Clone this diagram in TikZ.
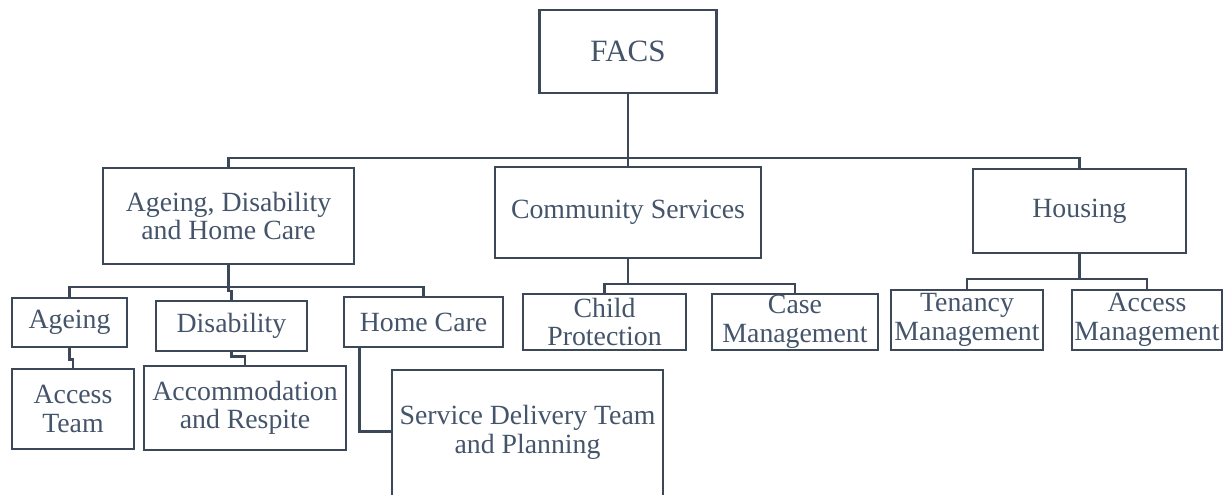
\documentclass[tikz,border=0pt]{standalone}
\usepackage{fontspec}
\setmainfont{Liberation Serif}
\definecolor{edge}{HTML}{3C4858}
\definecolor{ink}{HTML}{44546A}
\begin{document}
\begin{tikzpicture}[x=1pt,y=-1pt,
  txt/.style={text=ink, align=center, inner sep=0pt, font=\fontsize{27.8pt}{28.5pt}\selectfont},
  box/.style={txt, draw=edge, line width=2.9pt, rectangle},
  link/.style={draw=edge, line width=2.9pt},
]
\useasboundingbox (0,0) rectangle (1223,495);
\clip (0,0) rectangle (1223,495);

% top level
\node[box, minimum width=177pt, minimum height=83pt, font=\fontsize{31pt}{31pt}\selectfont] (facs) at (628,51.5) {FACS};

% divisions
\node[box, minimum width=251pt, minimum height=96pt] (adhc) at (228.5,216) {Ageing, Disability\\and Home Care};
\node[box, minimum width=266pt, minimum height=91pt] (cs) at (628,212.5) {Community Services};
\node[box, minimum width=213pt, minimum height=84pt] (hous) at (1079.5,211) {Housing};

% Ageing, Disability and Home Care branch
\node[box, minimum width=115pt, minimum height=49pt] (age) at (69.5,322.5) {Ageing};
\node[box, minimum width=151pt, minimum height=50pt] (dis) at (231.5,326) {Disability};
\node[box, minimum width=159pt, minimum height=50pt] (home) at (423.5,322) {Home Care};
\node[box, minimum width=122pt, minimum height=80pt] (acc) at (73,409) {Access\\Team};
\node[box, minimum width=202pt, minimum height=84pt] (accom) at (245,408) {Accommodation\\and Respite};
\node[box, minimum width=271pt, minimum height=135pt,
      label={[txt, yshift=5pt]center:{Service Delivery Team\\and Planning}}] (sdt) at (527.5,437.5) {};

% Community Services branch
\node[box, minimum width=163pt, minimum height=56pt] (cp) at (604.5,322) {Child\\Protection};
\node[box, minimum width=166pt, minimum height=56pt] (cm) at (795,322) {Case\\Management};

% Housing branch
\node[box, minimum width=152pt, minimum height=60pt] (ten) at (967,320) {Tenancy\\Management};
\node[box, minimum width=150pt, minimum height=60pt] (am) at (1147,320) {Access\\Management};

% connectors from FACS
\coordinate (b1) at (628,158);
\draw[link] (facs.south) -- (b1) -- (cs.north);
\draw[link] (adhc.north) |- (b1) -| (hous.north);

% connectors inside Ageing, Disability and Home Care
\coordinate (b2) at (228.5,287);
\draw[link] (adhc.south) -- (b2);
\draw[link] (age.north) |- (b2) -| (home.north);
\draw[link] (b2) -- ++(0,4) -| (dis.north);
\draw[link] (age.south) -- ++(0,11) -| (acc.north);
\draw[link] (dis.south) -- ++(0,4) -| (accom.north);
\draw[link] ([xshift=17pt]home.south west) |- ([yshift=-62.5pt]sdt.north west);

% connectors inside Community Services
\coordinate (b3) at (628,284);
\draw[link] (cs.south) -- (b3);
\draw[link] (cp.north) |- (b3) -| (cm.north);

% connectors inside Housing
\coordinate (b4) at (1079.5,279);
\draw[link] (hous.south) -- (b4);
\draw[link] (ten.north) |- (b4) -| (am.north);
\end{tikzpicture}
\end{document}
